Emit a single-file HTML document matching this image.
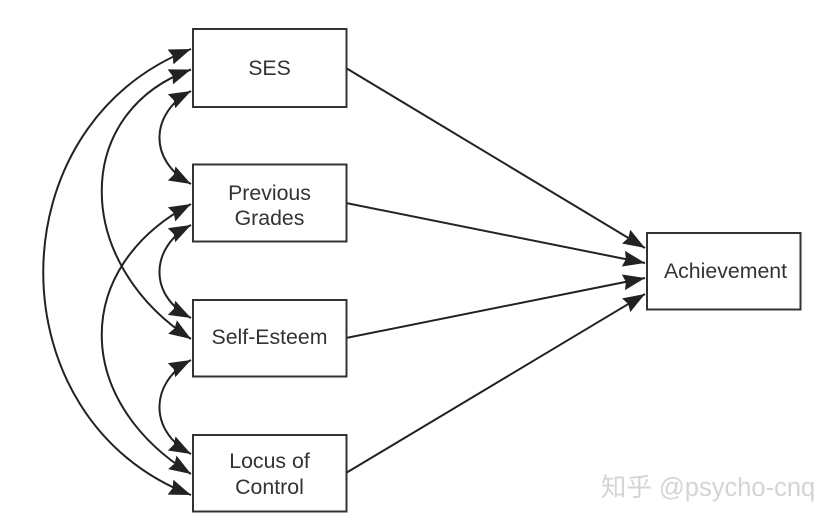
<!DOCTYPE html>
<html><head><meta charset="utf-8"><style>
html,body{margin:0;padding:0;background:#fff;width:836px;height:523px;overflow:hidden}
svg{display:block}
text{font-family:"Liberation Sans","Noto Sans CJK SC",sans-serif;font-size:21.300px;fill:#333;text-anchor:middle}
.b{fill:#fff;stroke:#333;stroke-width:2}
.c{fill:none;stroke:#222;stroke-width:2;marker-start:url(#s);marker-end:url(#e)}
.l{fill:none;stroke:#222;stroke-width:2;marker-end:url(#e)}
</style></head><body>
<svg width="836" height="523" viewBox="0 0 836 523" xmlns="http://www.w3.org/2000/svg">
<defs>
<marker id="e" markerUnits="userSpaceOnUse" markerWidth="26" markerHeight="18" refX="22" refY="8" orient="auto"><path d="M0 0L22 8L0 16L2.500 8Z" fill="#222"/></marker>
<marker id="s" markerUnits="userSpaceOnUse" markerWidth="26" markerHeight="18" refX="22" refY="8" orient="auto-start-reverse"><path d="M0 0L22 8L0 16L2.500 8Z" fill="#222"/></marker>
</defs>
<path class="c" d="M191 49C-6 125 -6 420 191 495"/>
<path class="c" d="M191 69.500C72 112 72 262 191 339"/>
<path class="c" d="M191 204C72 267 72 400 191 474"/>
<path class="c" d="M191 91C151 112 147 160 191 184"/>
<path class="c" d="M191 225C151 246 147 295 191 318"/>
<path class="c" d="M191 360C151 381 147 430 191 454"/>
<path class="l" d="M346 68L645 248"/>
<path class="l" d="M346 203L645 263"/>
<path class="l" d="M346 338L645 278"/>
<path class="l" d="M346 473L645 294"/>
<rect class="b" x="193" y="29" width="153.500" height="78"/>
<rect class="b" x="193" y="164.500" width="153.500" height="77"/>
<rect class="b" x="193" y="300" width="153.500" height="76.500"/>
<rect class="b" x="193" y="435" width="153.500" height="76.500"/>
<rect class="b" x="647" y="233" width="153.500" height="76.500"/>
<text x="269.500" y="75">SES</text>
<text x="269.500" y="200">Previous</text>
<text x="269.500" y="225">Grades</text>
<text x="269.500" y="344">Self-Esteem</text>
<text x="269.500" y="468">Locus of</text>
<text x="269.500" y="494">Control</text>
<text x="725.500" y="278">Achievement</text>
<text x="708" y="496" style="font-size:25.500px;fill:#d4d4d4">知乎 @psycho-cnq</text>
</svg>
</body></html>
